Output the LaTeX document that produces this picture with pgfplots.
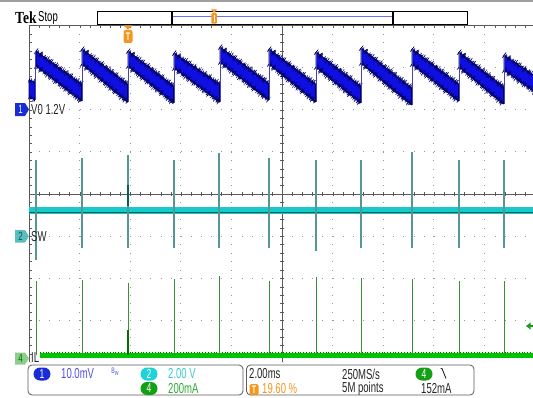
\documentclass[border=0pt]{standalone}
\usepackage{fontspec}
\setmainfont{Liberation Sans}[FakeStretch=0.66]
\newfontfamily\tekfont{Liberation Serif}[FakeStretch=0.8]
\usepackage{graphicx}
\usepackage{pgfplots}
\pgfplotsset{compat=1.18}
\newcommand\fs[1]{\fontsize{#1}{#1}\selectfont}
\definecolor{trblue}{RGB}{15,15,225}
\definecolor{trnavy}{RGB}{0,0,95}
\definecolor{tredge}{RGB}{70,70,170}
\definecolor{swcyan}{RGB}{25,200,200}
\definecolor{swdark}{RGB}{0,95,95}
\definecolor{swspike}{RGB}{85,150,150}
\definecolor{ilgreen}{RGB}{0,195,0}
\definecolor{ildark}{RGB}{0,110,0}
\definecolor{ilspike}{RGB}{60,140,60}
\definecolor{gridc}{RGB}{150,150,150}
\definecolor{gridd}{RGB}{90,90,90}
\definecolor{tekorange}{RGB}{245,150,30}
\definecolor{ch1}{RGB}{25,45,215}
\definecolor{ch1txt}{RGB}{80,80,230}
\definecolor{ch2}{RGB}{30,210,215}
\definecolor{ch2txt}{RGB}{60,200,210}
\definecolor{ch2m}{RGB}{90,190,190}
\definecolor{ch4}{RGB}{20,160,20}
\definecolor{ch4txt}{RGB}{50,170,50}
\definecolor{ch4m}{RGB}{140,205,140}
\definecolor{recblue}{RGB}{110,110,240}
\begin{document}
\begin{tikzpicture}
\begin{axis}[hide axis, scale only axis, width=506bp, height=336.8bp,
  xmin=29, xmax=535, ymin=25.5, ymax=362.3, y dir=reverse, clip=false]
% top strip
\addplot[draw=none, fill=gray!75] coordinates {(0,0)(533,0)(533,2)(0,2)} -- cycle;
% dotted grid
\pgfplotsinvokeforeach{79.6,130.2,180.8,231.4,332.6,383.2,433.8,484.4}{
  \addplot[gridc, line width=0.9bp, dash pattern=on 0.9bp off 7.52bp] coordinates {(#1,25.5)(#1,362.3)};
}
\pgfplotsinvokeforeach{67.6,109.7,151.8,236,278.1,320.2}{
  \addplot[gridc, line width=0.9bp, dash pattern=on 0.9bp off 9.22bp] coordinates {(29,#1)(535,#1)};
}
% centre cross
\addplot[gridd, line width=0.7bp] coordinates {(282,25.5)(282,362.3)};
\addplot[gridd, line width=0.7bp] coordinates {(29,193.9)(535,193.9)};
\addplot[gridd, line width=4.5bp, dash pattern=on 0.7bp off 7.72bp] coordinates {(282,25.5)(282,362.3)};
\addplot[gridd, line width=4.5bp, dash pattern=on 0.7bp off 9.42bp] coordinates {(29,193.9)(535,193.9)};
% borders
\addplot[gridd, line width=0.8bp] coordinates {(29,25.5)(535,25.5)};
\addplot[gridd, line width=3bp, dash pattern=on 0.7bp off 9.42bp] coordinates {(29,27)(535,27)};
\addplot[gridd, line width=0.8bp] coordinates {(29,25.5)(29,362.3)};
\addplot[gridd, line width=3bp, dash pattern=on 0.7bp off 7.72bp] coordinates {(30.5,25.5)(30.5,362.3)};

% ---- channel 2 (SW) ----
\addplot[swcyan, line width=6.5bp] coordinates {(29,210.5)(535,210.5)};
\addplot[swdark, line width=0.9bp] coordinates {(29,212.8)(535,212.8)};
\addplot[swspike, line width=1.1bp, unbounded coords=jump] coordinates {
(36,160)(36,260) (36,nan)
(82,158)(82,248) (82,nan)
(128,155)(128,248) (128,nan)
(174,160)(174,248) (174,nan)
(219,153)(219,248) (219,nan)
(269,158)(269,248) (269,nan)
(316,160)(316,251) (316,nan)
(361,160)(361,248) (361,nan)
(412,152)(412,248) (412,nan)
(459,160)(459,248) (459,nan)
(504,160)(504,248)};
\addplot[swdark, line width=1.3bp] coordinates {(128,185)(128,206)};

% ---- channel 4 (IL) ----
\addplot[ilgreen, line width=5bp] coordinates {(40,355)(535,355)};
\addplot[ildark, line width=1.6bp, dash pattern=on 1bp off 1.6bp on 0.6bp off 2.4bp] coordinates {(40,352.3)(535,352.3)};
\addplot[ilspike, line width=1bp, unbounded coords=jump] coordinates {
(36,281)(36,355) (36,nan)
(82,280)(82,355) (82,nan)
(128,283)(128,355) (128,nan)
(174,279)(174,355) (174,nan)
(219,276)(219,355) (219,nan)
(269,281)(269,355) (269,nan)
(316,277)(316,355) (316,nan)
(361,278)(361,355) (361,nan)
(412,279)(412,355) (412,nan)
(459,281)(459,355) (459,nan)
(504,281)(504,355)};
\addplot[ildark, line width=1.2bp] coordinates {(128,330)(128,355)};

% ---- channel 1 (V0) sawtooth band ----
\pgfplotsset{band/.style={fill=trblue, draw=trnavy, line width=0.6bp, line join=round}}
\addplot[band] coordinates {(29,80)(35,82)(35,100)(29,97)} -- cycle;
\addplot[band] coordinates {(36,51)(81.5,84)(81.5,101)(36,66)} -- cycle;
\addplot[band] coordinates {(82,49)(127.5,84)(127.5,102)(82,64)} -- cycle;
\addplot[band] coordinates {(128,51)(173.5,86)(173.5,103)(128,66)} -- cycle;
\addplot[band] coordinates {(174,53)(219.5,84)(219.5,102)(174,68)} -- cycle;
\addplot[band] coordinates {(220,47)(268.5,83)(268.5,100)(220,62)} -- cycle;
\addplot[band] coordinates {(269,49)(315.5,84)(315.5,102)(269,64)} -- cycle;
\addplot[band] coordinates {(316,52)(360.5,86)(360.5,103)(316,67)} -- cycle;
\addplot[band] coordinates {(361,48)(411.5,88)(411.5,105)(361,63)} -- cycle;
\addplot[band] coordinates {(412,49)(458.5,84)(458.5,101)(412,64)} -- cycle;
\addplot[band] coordinates {(459,52)(503.5,87)(503.5,104)(459,67)} -- cycle;
\addplot[band] coordinates {(504,55)(550,86)(550,103)(504,70)} -- cycle;
% noisy upper and lower edges
\pgfplotsset{fuzzA/.style={trnavy, line width=5bp, dash pattern=on 0.5bp off 1.3bp on 0.4bp off 2.6bp on 0.7bp off 0.9bp on 0.5bp off 3.2bp on 0.4bp off 1.7bp, unbounded coords=jump},
             fuzzB/.style={trnavy, line width=2.4bp, dash pattern=on 0.6bp off 0.9bp on 0.8bp off 0.5bp on 0.5bp off 1.4bp, unbounded coords=jump},
             fuzzC/.style={trnavy, line width=7bp, dash pattern=on 0.4bp off 5.3bp on 0.5bp off 7.9bp on 0.4bp off 4.1bp, unbounded coords=jump}}
\addplot[fuzzA] coordinates {(29,80)(35,82) (35,nan) (36,51)(81.5,84) (81.5,nan) (82,49)(127.5,84) (127.5,nan)
 (128,51)(173.5,86) (173.5,nan) (174,53)(219.5,84) (219.5,nan) (220,47)(268.5,83) (268.5,nan)
 (269,49)(315.5,84) (315.5,nan) (316,52)(360.5,86) (360.5,nan) (361,48)(411.5,88) (411.5,nan)
 (412,49)(458.5,84) (458.5,nan) (459,52)(503.5,87) (503.5,nan) (504,55)(550,86)};
\addplot[fuzzB] coordinates {(29,80)(35,82) (35,nan) (36,51)(81.5,84) (81.5,nan) (82,49)(127.5,84) (127.5,nan)
 (128,51)(173.5,86) (173.5,nan) (174,53)(219.5,84) (219.5,nan) (220,47)(268.5,83) (268.5,nan)
 (269,49)(315.5,84) (315.5,nan) (316,52)(360.5,86) (360.5,nan) (361,48)(411.5,88) (411.5,nan)
 (412,49)(458.5,84) (458.5,nan) (459,52)(503.5,87) (503.5,nan) (504,55)(550,86)};
\addplot[fuzzC] coordinates {(36,51)(81.5,84) (81.5,nan) (82,49)(127.5,84) (127.5,nan)
 (128,51)(173.5,86) (173.5,nan) (174,53)(219.5,84) (219.5,nan) (220,47)(268.5,83) (268.5,nan)
 (269,49)(315.5,84) (315.5,nan) (316,52)(360.5,86) (360.5,nan) (361,48)(411.5,88) (411.5,nan)
 (412,49)(458.5,84) (458.5,nan) (459,52)(503.5,87) (503.5,nan) (504,55)(550,86)};
\addplot[fuzzA] coordinates {(29,97)(35,100) (35,nan) (36,66)(81.5,101) (81.5,nan) (82,64)(127.5,102) (127.5,nan)
 (128,66)(173.5,103) (173.5,nan) (174,68)(219.5,102) (219.5,nan) (220,62)(268.5,100) (268.5,nan)
 (269,64)(315.5,102) (315.5,nan) (316,67)(360.5,103) (360.5,nan) (361,63)(411.5,105) (411.5,nan)
 (412,64)(458.5,101) (458.5,nan) (459,67)(503.5,104) (503.5,nan) (504,70)(550,103)};
\addplot[fuzzB] coordinates {(29,97)(35,100) (35,nan) (36,66)(81.5,101) (81.5,nan) (82,64)(127.5,102) (127.5,nan)
 (128,66)(173.5,103) (173.5,nan) (174,68)(219.5,102) (219.5,nan) (220,62)(268.5,100) (268.5,nan)
 (269,64)(315.5,102) (315.5,nan) (316,67)(360.5,103) (360.5,nan) (361,63)(411.5,105) (411.5,nan)
 (412,64)(458.5,101) (458.5,nan) (459,67)(503.5,104) (503.5,nan) (504,70)(550,103)};
\addplot[fuzzC] coordinates {(36,66)(81.5,101) (81.5,nan) (82,64)(127.5,102) (127.5,nan)
 (128,66)(173.5,103) (173.5,nan) (174,68)(219.5,102) (219.5,nan) (220,62)(268.5,100) (268.5,nan)
 (269,64)(315.5,102) (315.5,nan) (316,67)(360.5,103) (360.5,nan) (361,63)(411.5,105) (411.5,nan)
 (412,64)(458.5,101) (458.5,nan) (459,67)(503.5,104) (503.5,nan) (504,70)(550,103)};
% rising edges
\addplot[tredge, line width=0.9bp, unbounded coords=jump] coordinates {
(35.5,100)(35.5,51) (35.5,nan) (82,101)(82,49) (82,nan) (128,102)(128,51) (128,nan)
(174,103)(174,53) (174,nan) (220,102)(220,47) (220,nan) (269,100)(269,49) (269,nan)
(316,102)(316,52) (316,nan) (361,103)(361,48) (361,nan) (412,105)(412,49) (412,nan)
(459,101)(459,52) (459,nan) (504,104)(504,55)};

% ---- header ----
\node[anchor=west, inner sep=0] at (axis cs:15,18) {\tekfont\bfseries\fs{17}Tek};
\node[anchor=west, inner sep=0] at (axis cs:38,18.3) {\fs{14.5}Stop};
\addplot[black, line width=0.8bp, fill=white] coordinates {(97,11.5)(467,11.5)(467,24.5)(97,24.5)} -- cycle;
\addplot[recblue, line width=0.9bp] coordinates {(172,16.5)(393,16.5)};
\addplot[black, line width=1.3bp] coordinates {(172,11.5)(172,24.5)};
\addplot[black, line width=1.3bp] coordinates {(393,11.5)(393,24.5)};
\addplot[draw=none, fill=tekorange] coordinates {(211,9.5)(217,9.5)(214,13)} -- cycle;
\node[fill=tekorange, minimum width=5.5bp, minimum height=10.5bp, inner sep=0, rounded corners=1bp] at (axis cs:214,18.5) {};
\addplot[white, line width=1bp] coordinates {(214,15)(214,22.5)};
% trigger position marker
\addplot[draw=none, fill=tekorange] coordinates {(123.5,25.5)(132.5,25.5)(128,29.5)} -- cycle;
\node[fill=tekorange, text=white, minimum width=9bp, minimum height=13bp, inner sep=0, rounded corners=2bp, font=\bfseries\fs{11}] at (axis cs:128,36.5) {T};

% ---- channel markers ----
\addplot[draw=none, fill=ch1] coordinates {(15,103)(25,103)(29,109.5)(25,116)(15,116)} -- cycle;
\node[text=white, inner sep=0, font=\fs{12}] at (axis cs:20.5,109.8) {1};
\node[anchor=west, inner sep=0, text=black!85, font=\fs{14.5}] at (axis cs:31,109.5) {V0 1.2V};
\addplot[draw=none, fill=ch2m] coordinates {(15,230)(25,230)(29,236.3)(25,242.6)(15,242.6)} -- cycle;
\node[text=swdark, inner sep=0, font=\fs{12}] at (axis cs:20.5,236.6) {2};
\node[anchor=west, inner sep=0, text=black!85, font=\fs{14.5}] at (axis cs:31,236.3) {SW};
\addplot[draw=none, fill=ch4m] coordinates {(15,352.5)(25,352.5)(29,358.5)(25,364.5)(15,364.5)} -- cycle;
\node[text=ildark, inner sep=0, font=\fs{12}] at (axis cs:20.5,358.8) {4};
\node[anchor=west, inner sep=0, text=black!85, font=\fs{14.5}] at (axis cs:31,358) {IL};
% ch4 trigger level
\addplot[draw=none, fill=ch4] coordinates {(526,326)(530.5,322.5)(530.5,329.5)} -- cycle;
\addplot[ch4, line width=1.5bp] coordinates {(529,326)(535,326)};

% ---- bottom readout ----
\addplot[draw=gridd, line width=0.8bp, rounded corners=4bp, fill=white] coordinates {(28,365)(243,365)(243,395)(28,395)} -- cycle;
\addplot[draw=gridd, line width=0.8bp, rounded corners=4bp, fill=white] coordinates {(246.5,365)(474,365)(474,395)(246.5,395)} -- cycle;
\node[fill=ch1, text=white, minimum width=17bp, minimum height=13bp, inner sep=0, rounded corners=6.5bp, font=\fs{13}] at (axis cs:42,374) {1};
\node[anchor=west, inner sep=0, text=ch1txt, font=\fs{14.5}] at (axis cs:61,374) {10.0mV};
\node[inner sep=0, text=ch1txt] at (axis cs:115,371.5) {\fs{8}B\raisebox{-1.8bp}{\fs{6}W}};
\node[fill=ch2, text=white, minimum width=17bp, minimum height=13bp, inner sep=0, rounded corners=6.5bp, font=\fs{13}] at (axis cs:149,374) {2};
\node[anchor=west, inner sep=0, text=ch2txt, font=\fs{14.5}] at (axis cs:168,374) {2.00 V};
\node[fill=ch4, text=white, minimum width=17bp, minimum height=13bp, inner sep=0, rounded corners=6.5bp, font=\fs{13}] at (axis cs:149,388.5) {4};
\node[anchor=west, inner sep=0, text=ch4txt, font=\fs{14.5}] at (axis cs:168,388.5) {200mA};
\node[anchor=west, inner sep=0, text=black!85, font=\fs{14.5}] at (axis cs:249,374) {2.00ms};
\node[fill=tekorange, text=white, minimum width=9bp, minimum height=11bp, inner sep=0, rounded corners=1.5bp, font=\bfseries\fs{11}] at (axis cs:254,389.5) {T};
\node[anchor=west, inner sep=0, text=tekorange, font=\fs{14.5}] at (axis cs:262,389) {19.60 \%};
\node[anchor=west, inner sep=0, text=black!85, font=\fs{14.5}] at (axis cs:342,374) {250MS/s};
\node[anchor=west, inner sep=0, text=black!85, font=\fs{14.5}] at (axis cs:342,389) {5M points};
\node[fill=ch4, text=white, minimum width=17bp, minimum height=13bp, inner sep=0, rounded corners=6.5bp, font=\fs{13}] at (axis cs:424,374) {4};
\addplot[black!85, line width=0.9bp] coordinates {(440.5,368.5)(442,368.5)(446,378.5)};
\node[anchor=west, inner sep=0, text=black!85, font=\fs{14.5}] at (axis cs:421,389) {152mA};
\end{axis}
\pgfresetboundingbox
\path (-29bp,-35.7bp) rectangle (504bp,362.3bp);
\end{tikzpicture}
\end{document}
